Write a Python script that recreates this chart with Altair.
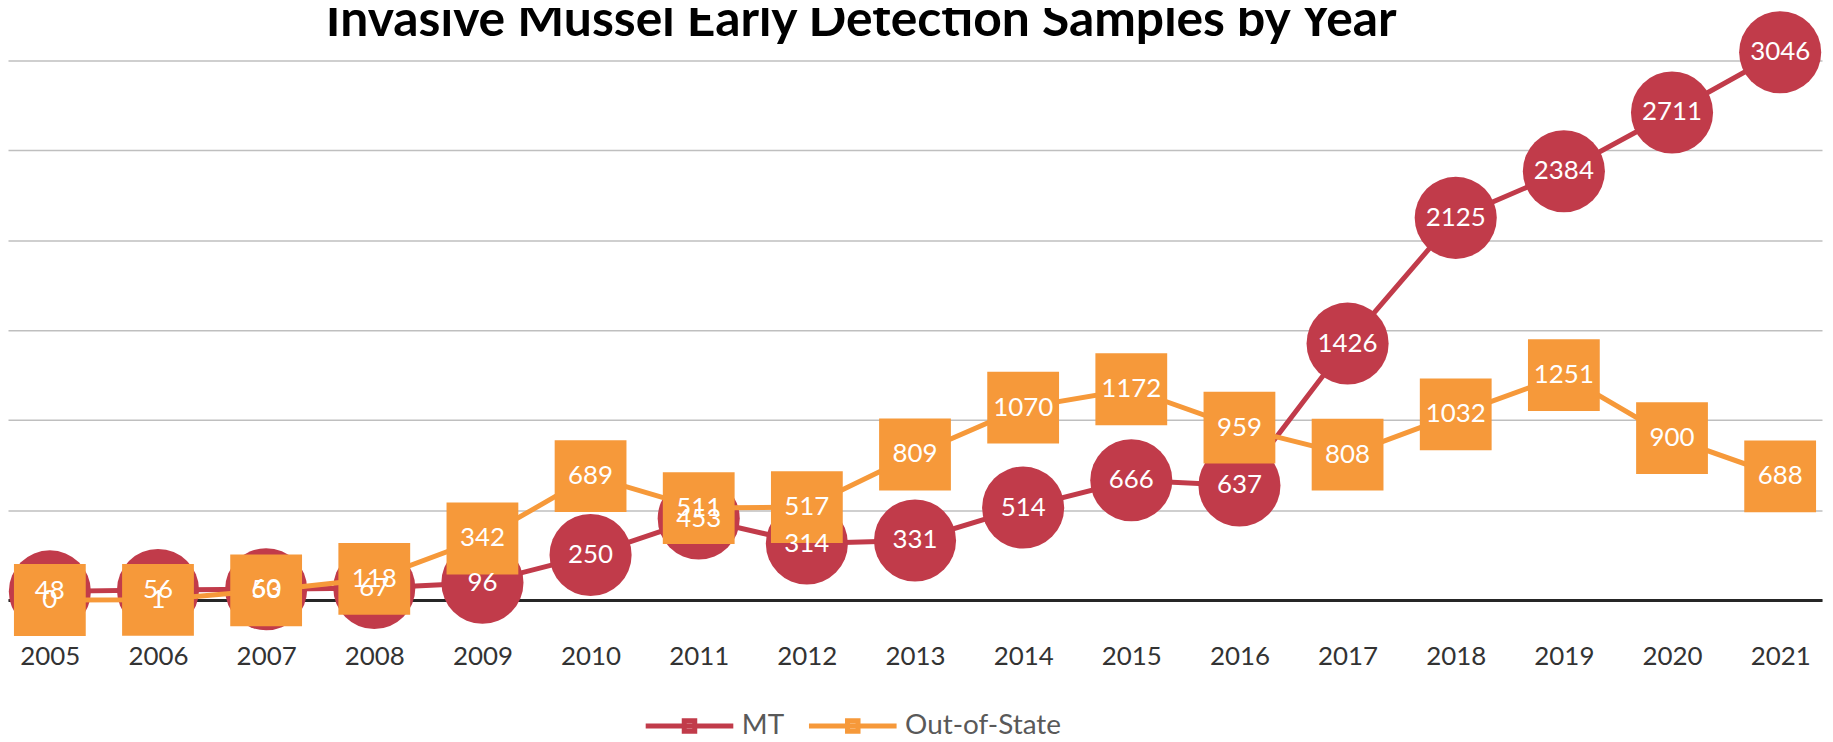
import altair as alt
import pandas as pd

years = [str(y) for y in range(2005, 2022)]
mt_values = [48, 56, 60, 67, 96, 250, 453, 314, 331, 514, 666, 637, 1426, 2125, 2384, 2711, 3046]
oos_values = [0, 1, 53, 118, 342, 689, 511, 517, 809, 1070, 1172, 959, 808, 1032, 1251, 900, 688]
series_names = ["MT", "Out-of-State"]
grid_values = [0, 500, 1000, 1500, 2000, 2500, 3000]
title_text = ["Invasive Mussel Early Detection Samples by Year"]

RED = "#C13B4A"
ORANGE = "#F6993A"

df = pd.DataFrame(
    [{"year": y, "series": "MT", "value": v} for y, v in zip(years, mt_values)]
    + [{"year": y, "series": "Out-of-State", "value": v} for y, v in zip(years, oos_values)]
)
title_df = pd.DataFrame({"t": title_text})

W = 1822
H = 593

x_enc = alt.X(
    "year:O",
    sort=years,
    scale=alt.Scale(type="point", padding=0.387),
    axis=alt.Axis(
        title=None, labelAngle=0, ticks=False, grid=False,
        domainColor="#262626", domainWidth=3,
        labelFont="Lato", labelFontSize=26, labelColor="#333333",
        labelPadding=44,
    ),
)
y_enc = alt.Y(
    "value:Q",
    scale=alt.Scale(domain=[0, 3283], nice=False, zero=True),
    axis=alt.Axis(
        title=None, labels=False, ticks=False, domain=False, grid=True,
        values=grid_values, gridColor="#BFBFBF", gridWidth=1.5,
    ),
)

base = alt.Chart(df).encode(x=x_enc, y=y_enc)

color_enc = alt.Color(
    "series:N",
    scale=alt.Scale(domain=series_names, range=[RED, ORANGE]),
    legend=alt.Legend(
        title=None, orient="none", direction="horizontal",
        legendX=638, legendY=673,
        labelFont="Lato", labelFontSize=28, labelColor="#595959",
        symbolType="M-1,0L1,0M-0.12,-0.12L0.12,-0.12L0.12,0.12L-0.12,0.12Z",
        symbolSize=7744, symbolStrokeWidth=5,
        labelOffset=6, columnPadding=14,
    ),
)

mt_line = base.transform_filter(alt.datum.series == "MT").mark_line(strokeWidth=5).encode(color=color_enc)
mt_pts = base.transform_filter(alt.datum.series == "MT").mark_point(
    shape="circle", filled=True, size=6800, color=RED, opacity=1
)
oos_line = base.transform_filter(alt.datum.series == "Out-of-State").mark_line(strokeWidth=5).encode(color=color_enc)
oos_pts = base.transform_filter(alt.datum.series == "Out-of-State").mark_point(
    shape="square", filled=True, size=5200, color=ORANGE, opacity=1
)
labels = base.mark_text(
    font="Lato", fontSize=26, color="white", align="center", baseline="middle"
).encode(text="value:Q")

title_mark = alt.Chart(title_df).mark_text(
    font="Lato", fontSize=50, fontWeight="bold", color="black",
    align="center", baseline="alphabetic",
).encode(text="t:N", x=alt.value(857), y=alt.value(27))

chart = alt.layer(mt_line, mt_pts, oos_line, oos_pts, labels, title_mark).properties(
    width=W,
    height=H,
    autosize=alt.AutoSizeParams(type="none"),
    padding={"left": 0, "top": 0, "right": 3, "bottom": 140},
).configure_view(stroke=None)

chart.save("out.html", embed_options={"renderer": "svg", "actions": False})
